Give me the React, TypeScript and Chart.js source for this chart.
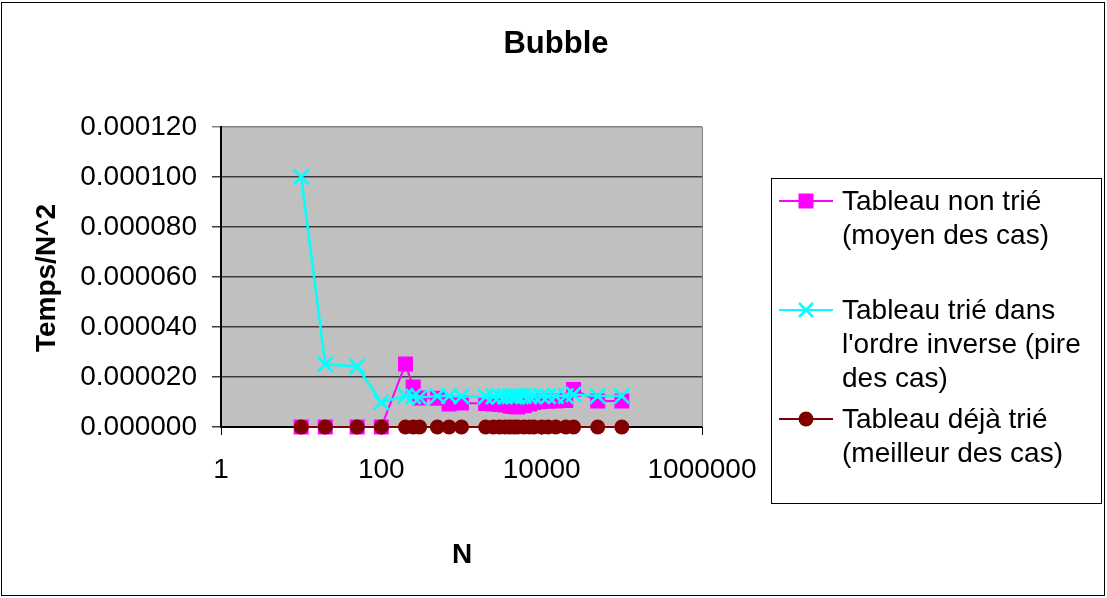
import React, { useEffect, useRef } from "react";
import { Chart, registerables } from "chart.js";

Chart.register(...registerables);

const TITLE = "Bubble";
const X_TITLE = "N";
const Y_TITLE = "Temps/N^2";

const N_VALUES = [10, 20, 50, 100, 200, 250, 300, 500, 700, 1000, 2000, 2500, 3000, 3500, 4000, 4500, 5000, 6000, 7000, 8000, 10000, 12000, 15000, 20000, 25000, 50000, 100000];

const NON_TRIE = [0, 0, 0, 0, 0.0000252, 0.0000160, 0.0000116, 0.0000115, 0.0000092, 0.0000096, 0.0000094, 0.0000092, 0.0000090, 0.0000088, 0.0000084, 0.0000082, 0.0000080, 0.0000086, 0.0000092, 0.0000098, 0.0000102, 0.0000104, 0.0000104, 0.0000106, 0.0000150, 0.0000104, 0.0000104];

const INVERSE = [0.0001000, 0.0000251, 0.0000242, 0.0000099, 0.0000125, 0.0000122, 0.0000118, 0.0000124, 0.0000124, 0.0000122, 0.0000121, 0.0000122, 0.0000123, 0.0000122, 0.0000123, 0.0000122, 0.0000123, 0.0000124, 0.0000122, 0.0000123, 0.0000124, 0.0000123, 0.0000124, 0.0000124, 0.0000130, 0.0000124, 0.0000124];

const DEJA_TRIE = [0, 0, 0, 0, 0, 0, 0, 0, 0, 0, 0, 0, 0, 0, 0, 0, 0, 0, 0, 0, 0, 0, 0, 0, 0, 0, 0];

const X_TICKS = [1, 100, 10000, 1000000];
const Y_MIN = 0;
const Y_MAX = 0.00012;
const Y_STEP = 0.00002;

const LEGEND_ITEMS = [
  { lines: ["Tableau non trié", "(moyen des cas)"], color: "#FF00FF", marker: "square" },
  { lines: ["Tableau trié dans", "l'ordre inverse (pire", "des cas)"], color: "#00FFFF", marker: "cross" },
  { lines: ["Tableau déjà trié", "(meilleur des cas)"], color: "#800000", marker: "circle" },
];

const FONT = '"Liberation Sans", Arial, sans-serif';

const decorPlugin = {
  id: "decor",
  beforeDraw(chart: any) {
    const { ctx, chartArea: a } = chart;
    ctx.save();
    ctx.fillStyle = "#FFFFFF";
    ctx.fillRect(0, 0, chart.width, chart.height);
    ctx.fillStyle = "#C0C0C0";
    ctx.fillRect(a.left, a.top, a.right - a.left, a.bottom - a.top);
    ctx.restore();
  },
  afterDraw(chart: any) {
    const { ctx, chartArea: a } = chart;
    ctx.save();
    // plot right border
    ctx.strokeStyle = "#808080";
    ctx.lineWidth = 1;
    ctx.beginPath();
    ctx.moveTo(a.right + 0.5, a.top);
    ctx.lineTo(a.right + 0.5, a.bottom);
    ctx.stroke();

    // outer border
    ctx.strokeStyle = "#000000";
    ctx.lineWidth = 1;
    ctx.strokeRect(1.5, 2.5, 1103, 593);

    // title
    ctx.fillStyle = "#000";
    ctx.textAlign = "center";
    ctx.textBaseline = "alphabetic";
    ctx.font = `bold 31px ${FONT}`;
    ctx.fillText(TITLE, 556, 53);

    // x title
    ctx.font = `bold 28px ${FONT}`;
    ctx.fillText(X_TITLE, 462, 563);

    // y title
    ctx.save();
    ctx.translate(55, 278);
    ctx.rotate(-Math.PI / 2);
    ctx.fillText(Y_TITLE, 0, 0);
    ctx.restore();

    // legend box
    ctx.fillStyle = "#FFFFFF";
    ctx.fillRect(771, 178, 330, 325);
    ctx.strokeStyle = "#000";
    ctx.lineWidth = 1;
    ctx.strokeRect(771.5, 178.5, 330, 325);

    const baselines = [210, 319, 428];
    ctx.font = `28px ${FONT}`;
    ctx.textAlign = "left";
    LEGEND_ITEMS.forEach((item, i) => {
      const b = baselines[i];
      const my = b - 9;
      ctx.strokeStyle = item.color;
      ctx.lineWidth = 2;
      ctx.beginPath();
      ctx.moveTo(779, my);
      ctx.lineTo(833, my);
      ctx.stroke();
      ctx.fillStyle = item.color;
      if (item.marker === "square") {
        ctx.fillRect(806 - 7.5, my - 7.5, 15, 15);
      } else if (item.marker === "circle") {
        ctx.beginPath();
        ctx.arc(806, my, 7.5, 0, Math.PI * 2);
        ctx.fill();
      } else {
        ctx.lineWidth = 2.5;
        ctx.beginPath();
        ctx.moveTo(799, my - 7);
        ctx.lineTo(813, my + 7);
        ctx.moveTo(813, my - 7);
        ctx.lineTo(799, my + 7);
        ctx.stroke();
      }
      ctx.fillStyle = "#000";
      item.lines.forEach((t, j) => {
        ctx.fillText(t, 842, b + j * 34);
      });
    });
    ctx.restore();
  },
};

export default function App() {
  const ref = useRef<HTMLCanvasElement | null>(null);

  useEffect(() => {
    if (!ref.current) return;
    const mk = (arr: number[]) => N_VALUES.map((n, i) => ({ x: n, y: arr[i] }));
    const chart = new Chart(ref.current, {
      type: "line",
      data: {
        datasets: [
          {
            label: "Tableau non trié (moyen des cas)",
            data: mk(NON_TRIE),
            borderColor: "#FF00FF",
            backgroundColor: "#FF00FF",
            borderWidth: 2,
            pointStyle: "rect",
            pointRadius: 10.6,
            pointBorderWidth: 0,
            pointBackgroundColor: "#FF00FF",
            order: 2,
            clip: false as any,
          },
          {
            label: "Tableau trié dans l'ordre inverse (pire des cas)",
            data: mk(INVERSE),
            borderColor: "#00FFFF",
            backgroundColor: "#00FFFF",
            borderWidth: 2.5,
            pointStyle: "crossRot",
            pointRadius: 10.6,
            pointBorderWidth: 2.5,
            pointBorderColor: "#00FFFF",
            order: 1,
            clip: false as any,
          },
          {
            label: "Tableau déjà trié (meilleur des cas)",
            data: mk(DEJA_TRIE),
            borderColor: "#800000",
            backgroundColor: "#800000",
            borderWidth: 2,
            pointStyle: "circle",
            pointRadius: 7.5,
            pointBorderWidth: 0,
            pointBackgroundColor: "#800000",
            order: 0,
            clip: false as any,
          },
        ],
      },
      options: {
        animation: false,
        responsive: false,
        maintainAspectRatio: false,
        layout: { padding: { left: 0, top: 127, right: 405, bottom: 0 } },
        elements: { line: { tension: 0 } },
        plugins: {
          legend: { display: false },
          title: { display: false },
          tooltip: { enabled: false },
        },
        scales: {
          x: {
            type: "logarithmic",
            min: 1,
            max: 1000000,
            afterBuildTicks: (s: any) => {
              s.ticks = X_TICKS.map((v) => ({ value: v, major: false }));
            },
            afterFit: (s: any) => {
              s.height = 171;
            },
            ticks: {
              autoSkip: false,
              maxRotation: 0,
              minRotation: 0,
              padding: 18,
              color: "#000",
              font: { family: FONT, size: 28 },
              callback: (v: any) => String(v),
            },
            grid: {
              drawOnChartArea: false,
              drawTicks: true,
              tickLength: 8,
              color: "#000",
              lineWidth: 1,
            },
            border: { display: true, color: "#000", width: 2 },
          },
          y: {
            type: "linear",
            min: Y_MIN,
            max: Y_MAX,
            afterFit: (s: any) => {
              s.width = 221;
            },
            ticks: {
              stepSize: Y_STEP,
              padding: 15,
              color: "#000",
              font: { family: FONT, size: 28 },
              callback: (v: any) => Number(v).toFixed(6),
            },
            grid: {
              drawTicks: true,
              tickLength: 9,
              color: (c: any) => (c.tick && Math.abs(c.tick.value - Y_MAX) < 1e-12 ? "#808080" : "#3C3C3C"),
              lineWidth: 1.5,
            },
            border: { display: true, color: "#000", width: 2 },
          },
        },
      },
      plugins: [decorPlugin],
    });
    return () => chart.destroy();
  }, []);

  return (
    <div style={{ position: "fixed", left: 0, top: 0, width: 1107, height: 598, background: "#fff" }}>
      <canvas ref={ref} width={1107} height={598} style={{ display: "block", width: 1107, height: 598 }} />
    </div>
  );
}
